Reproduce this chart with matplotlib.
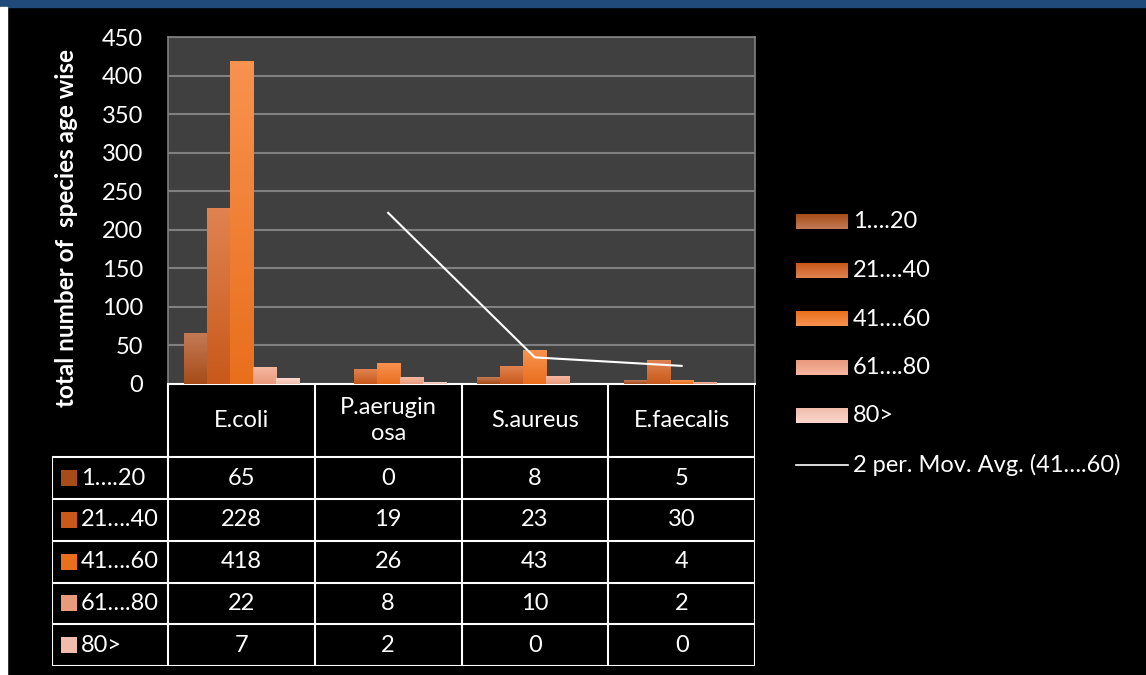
import matplotlib
matplotlib.use("Agg")
import matplotlib.pyplot as plt
import numpy as np
from matplotlib.colors import LinearSegmentedColormap
from matplotlib.patches import Rectangle

plt.rcParams['font.family'] = ['Lato', 'DejaVu Sans']

# species and age groups
species = ['E.coli', 'P.aeruginosa', 'S.aureus', 'E.faecalis']
species_labels = ['E.coli', 'P.aerugin\nosa', 'S.aureus', 'E.faecalis']
age_groups = ['1….20', '21….40', '41….60', '61….80', '80>']
counts = [
    [65, 0, 8, 5],
    [228, 19, 23, 30],
    [418, 26, 43, 4],
    [22, 8, 10, 2],
    [7, 2, 0, 0],
]
ylabel = 'total number of  species age wise'
trend_label = '2 per. Mov. Avg. (41….60)'

# gradient (top, bottom) per age group
grads = [
    ('#c47a55', '#a64c18'),
    ('#e08350', '#c8591b'),
    ('#f8924f', '#e96f1d'),
    ('#f7b7a0', '#e89a7c'),
    ('#fad8cd', '#f0bdac'),
]
FS = 17

W, H = 1146, 675
fig = plt.figure(figsize=(W / 100, H / 100), dpi=100, facecolor='black')

# header stripe and left edge
fig.patches.append(Rectangle((0, 1 - 7 / H), 1, 7 / H, transform=fig.transFigure,
                             color='#1f4a7a', zorder=0))
fig.patches.append(Rectangle((0, 0), 7 / W, 1 - 7 / H, transform=fig.transFigure,
                             color='white', zorder=0))


def px(x0, y0, x1, y1):
    return [x0 / W, 1 - y1 / H, (x1 - x0) / W, (y1 - y0) / H]


ax = fig.add_axes(px(168, 37, 755, 384))
ax.set_facecolor('#404040')
n = len(species)
x = np.arange(n)
bw = 0.157
for i, (vals, (ctop, cbot)) in enumerate(zip(counts, grads)):
    bars = ax.bar(x + (i - 2) * bw, vals, bw, color='none', zorder=3)
    cmap = LinearSegmentedColormap.from_list('g%d' % i, [cbot, ctop])
    for b in bars:
        h = b.get_height()
        if h <= 0:
            continue
        x0 = b.get_x()
        grad = np.linspace(0, 1, 64).reshape(-1, 1)
        ax.imshow(grad, extent=[x0, x0 + b.get_width(), 0, h], origin='lower',
                  aspect='auto', cmap=cmap, zorder=3)

# two-period moving average of the 41-60 group
v = np.array(counts[2], dtype=float)
mavg = (v[1:] + v[:-1]) / 2
ax.plot(x[1:], mavg, color='white', lw=1.5, zorder=4)

ax.set_xlim(-0.5, n - 0.5)
ax.set_ylim(0, 450)
ax.set_yticks(np.arange(0, 451, 50))
ax.set_xticks([])
ax.grid(axis='y', color='#808080', lw=1.5, zorder=1)
ax.tick_params(axis='y', length=0, pad=18, labelsize=FS, labelcolor='white')
for s in ['top', 'left', 'right']:
    ax.spines[s].set_color('#808080')
    ax.spines[s].set_linewidth(1.2)
ax.spines['bottom'].set_color('white')
ax.spines['bottom'].set_linewidth(1.5)
fig.text(67 / W, 1 - 228 / H, ylabel, rotation=90, color='white', fontsize=17.5,
         fontweight='bold', ha='center', va='center')

# data table under the plot
tab = fig.add_axes(px(52, 384, 755, 666))
tab.set_facecolor('black')
tab.axis('off')
lw = (168 - 52) / 146.75
hdr = 73 / 41.6
nrow = len(age_groups)
tab.set_xlim(-0.5 - lw, n - 0.5)
tab.set_ylim(hdr + nrow, 0)
lk = dict(color='white', lw=1.5, solid_capstyle='projecting')
tab.plot([-0.5, -0.5], [0, hdr + nrow], **lk)
for j in range(1, n + 1):
    tab.plot([j - 0.5, j - 0.5], [0, hdr + nrow], **lk)
tab.plot([-0.5 - lw, -0.5 - lw], [hdr, hdr + nrow], **lk)
for r in range(nrow + 1):
    tab.plot([-0.5 - lw, n - 0.5], [hdr + r, hdr + r], **lk)
for j, lab in enumerate(species_labels):
    tab.text(j, hdr / 2, lab, color='white', fontsize=FS, ha='center', va='center',
             linespacing=1.3)
for r, (grp, vals, (ctop, cbot)) in enumerate(zip(age_groups, counts, grads)):
    yc = hdr + r + 0.5
    tab.add_patch(Rectangle((-0.5 - lw + 0.06, yc - 0.19), 0.11, 0.38,
                            color=cbot, lw=0))
    tab.text(-0.5 - lw + 0.195, yc, grp, color='white', fontsize=FS, ha='left',
             va='center')
    for j, val in enumerate(vals):
        tab.text(j, yc, str(val), color='white', fontsize=FS, ha='center',
                 va='center')

# legend
leg_ax = fig.add_axes(px(790, 200, 1146, 480))
leg_ax.axis('off')
for i, (grp, (ctop, cbot)) in enumerate(zip(age_groups, grads)):
    yc = 222 + i * 48.5
    cmap = LinearSegmentedColormap.from_list('l%d' % i, [cbot, ctop])
    leg_ax.imshow(np.linspace(0, 1, 32).reshape(-1, 1), extent=[796, 848, yc + 7.5, yc - 7.5],
                  origin='upper', aspect='auto', cmap=cmap)
    leg_ax.text(853, yc, grp, color='white', fontsize=FS, va='center', ha='left')
yc = 222 + 5 * 48.5
leg_ax.plot([796, 848], [yc, yc], color='white', lw=1.2)
leg_ax.text(853, yc, trend_label, color='white', fontsize=FS, va='center', ha='left')
leg_ax.set_xlim(790, 1146)
leg_ax.set_ylim(480, 200)

fig.savefig('out.png', dpi=100, facecolor='black')
